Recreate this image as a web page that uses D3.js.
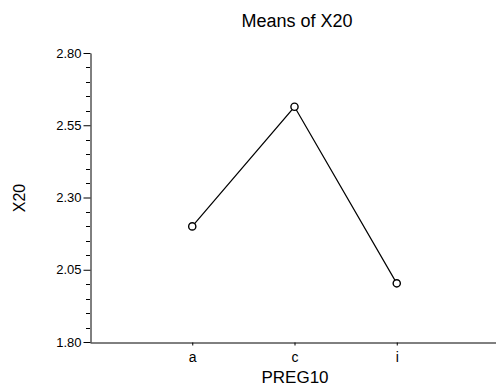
<!DOCTYPE html>
<html>
<head>
<meta charset="utf-8">
<script src="https://cdn.jsdelivr.net/npm/d3@7"></script>
<style>
  html, body { margin: 0; padding: 0; background: #fff; }
  text { font-family: "Liberation Sans", Arial, Helvetica, sans-serif; fill: #000; }
</style>
</head>
<body>
<svg id="chart" width="496" height="390"></svg>
<script>
// Mean of X20 for each level of PREG10
const categories = ["a", "c", "i"];
const means = [2.20, 2.614, 2.003];
const yTickValues = [1.80, 2.05, 2.30, 2.55, 2.80];
const yMinorStep = 0.05;

const svg = d3.select("#chart");
const plotLeft = 90, plotRight = 499, plotTop = 53, plotBottom = 342;

const x = d3.scalePoint().domain(categories).range([plotLeft, plotRight]).padding(1);
const y = d3.scaleLinear().domain([1.80, 2.80]).range([plotBottom, plotTop]);

// minor ticks on the value axis
const minor = d3.range(1.80, 2.8001, yMinorStep).filter(v => !yTickValues.some(t => Math.abs(t - v) < 1e-6));
svg.append("g")
  .attr("transform", `translate(${plotLeft},0)`)
  .selectAll("line").data(minor).join("line")
  .attr("x1", -4).attr("x2", 0)
  .attr("y1", d => Math.round(y(d)) + 0.5).attr("y2", d => Math.round(y(d)) + 0.5)
  .attr("stroke", "#000");

const yAxis = svg.append("g")
  .attr("transform", `translate(${plotLeft + 0.5},0)`)
  .call(d3.axisLeft(y).tickValues(yTickValues).tickFormat(d3.format(".2f")).tickSize(7).tickPadding(2).tickSizeOuter(0));
yAxis.select(".domain").attr("stroke", "#000");
yAxis.selectAll(".tick line").attr("stroke", "#000");
yAxis.selectAll(".tick text").attr("font-size", 13).attr("font-family", "Liberation Sans, Arial, sans-serif");

const xAxis = svg.append("g")
  .attr("transform", `translate(0,${plotBottom + 0.5})`)
  .call(d3.axisBottom(x).tickSize(3).tickPadding(7).tickSizeOuter(0));
xAxis.select(".domain").attr("stroke", "#000");
xAxis.selectAll(".tick line").attr("stroke", "#000");
xAxis.selectAll(".tick text").attr("font-size", 14).attr("font-family", "Liberation Sans, Arial, sans-serif");

const pts = categories.map((c, i) => [x(c), y(means[i])]);

svg.append("path")
  .attr("d", d3.line()(pts))
  .attr("fill", "none")
  .attr("stroke", "#000")
  .attr("stroke-width", 1.2);

svg.selectAll("circle.pt").data(pts).join("circle")
  .attr("class", "pt")
  .attr("cx", d => d[0]).attr("cy", d => d[1])
  .attr("r", 3.6)
  .attr("fill", "#fff")
  .attr("stroke", "#000")
  .attr("stroke-width", 1.4);

svg.append("text")
  .attr("x", 297).attr("y", 27)
  .attr("text-anchor", "middle")
  .attr("font-size", 18)
  .text("Means of X20");

svg.append("text")
  .attr("x", 295).attr("y", 383)
  .attr("text-anchor", "middle")
  .attr("font-size", 17)
  .text("PREG10");

svg.append("text")
  .attr("transform", "translate(25,198) rotate(-90)")
  .attr("text-anchor", "middle")
  .attr("font-size", 16)
  .text("X20");
</script>
</body>
</html>
